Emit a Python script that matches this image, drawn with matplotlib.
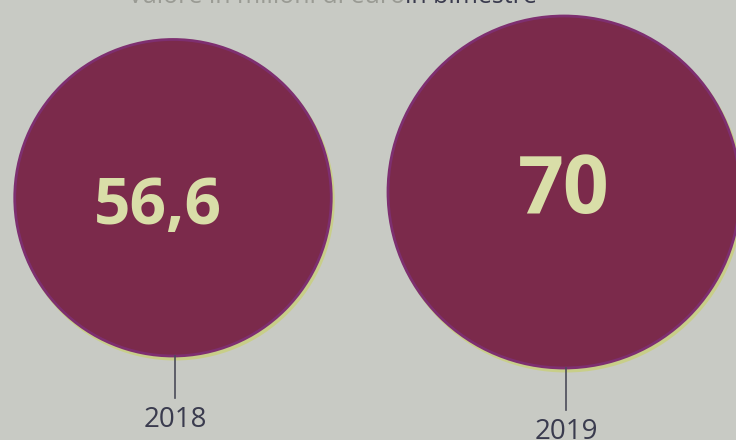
import matplotlib
matplotlib.use("Agg")
import matplotlib.pyplot as plt
from matplotlib.patches import Circle
import numpy as np

# data
years = ["2018", "2019"]
values = [56.6, 70]
value_labels = ["56,6", "70"]

# layout (pixel space)
W, H = 736, 440
centers_x = [173, 564]
bottoms_y = [356, 368]
scale = 176 / np.sqrt(70)  # area-proportional circles

bg = "#c8cac4"
fill = "#7b2a4b"
edge = "#7e2f70"
glow = "#c9d25a"
txt_in = "#d9dea8"
txt_out = "#3a3b4e"

fig = plt.figure(figsize=(W / 100, H / 100), dpi=100, facecolor=bg)
ax = fig.add_axes([0, 0, 1, 1])
ax.set_xlim(0, W)
ax.set_ylim(H, 0)
ax.set_aspect("equal")
ax.axis("off")
ax.set_facecolor(bg)

value_sizes = [46, 58]
value_dy = [10, 0]

for i, (yr, v, lab) in enumerate(zip(years, values, value_labels)):
    r = scale * np.sqrt(v)
    cx = centers_x[i]
    cy = bottoms_y[i] - r
    ax.add_patch(Circle((cx + 2, cy + 3), r + 1.5, facecolor=glow, edgecolor="none", alpha=0.55, zorder=1))
    ax.add_patch(Circle((cx, cy), r, facecolor=fill, edgecolor=edge, linewidth=2.0, zorder=2))
    ax.text(cx - (15 if i == 0 else 0), cy + value_dy[i], lab, ha="center", va="center",
            fontsize=value_sizes[i], fontweight="bold", family="Open Sans", color=txt_in, zorder=3)
    ly = bottoms_y[i]
    ax.plot([cx + 2, cx + 2], [ly, ly + 42], color="#4a4b58", linewidth=1.2, zorder=3)
    ax.text(cx + 2, ly + 50, yr, ha="center", va="top", fontsize=20,
            family="Open Sans", color=txt_out, zorder=3)

ax.text(537, 9, "in bimestre", ha="right", va="bottom", fontsize=18,
        family="Open Sans", color="#3a3b4e", zorder=3)
ax.text(405, 9, "Valore in milioni di euro", ha="right", va="bottom", fontsize=18,
        family="Open Sans", color="#9a9b94", zorder=3)

fig.savefig("out.png", dpi=100, facecolor=bg)
